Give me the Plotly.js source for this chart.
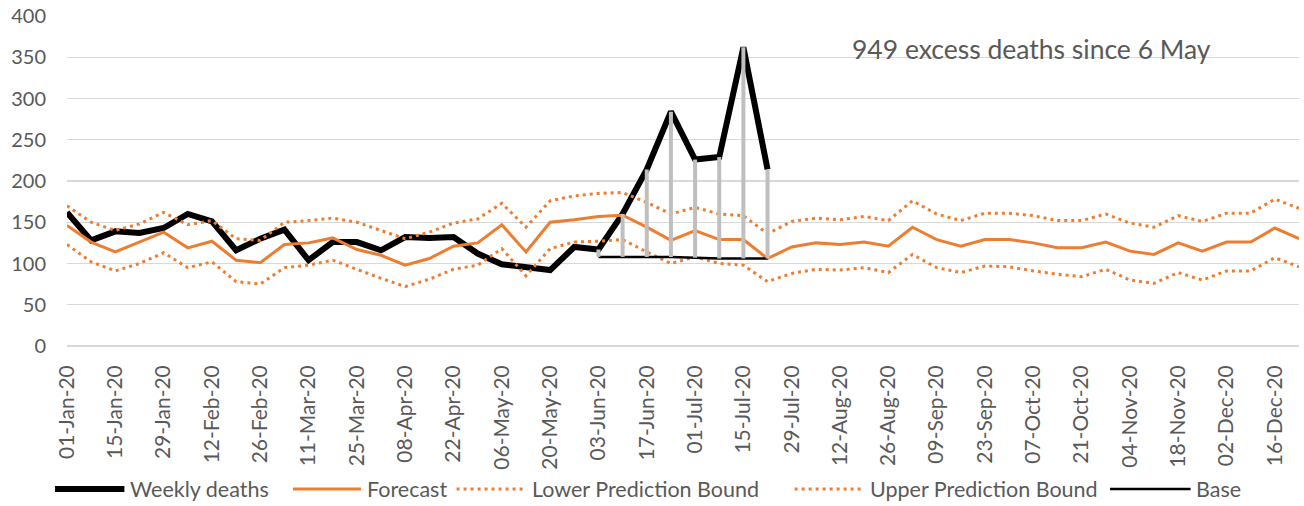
<!DOCTYPE html>
<html>
<head>
<meta charset="utf-8">
<script src="https://cdn.plot.ly/plotly-3.0.1.min.js"></script>
<style>
html,body{margin:0;padding:0;background:#fff;}
#chart{width:1304px;height:506px;}
</style>
</head>
<body>
<div id="chart"></div>
<script>
const weeks = ['01-Jan-20','08-Jan-20','15-Jan-20','22-Jan-20','29-Jan-20','05-Feb-20','12-Feb-20','19-Feb-20','26-Feb-20','04-Mar-20','11-Mar-20','18-Mar-20','25-Mar-20','01-Apr-20','08-Apr-20','15-Apr-20','22-Apr-20','29-Apr-20','06-May-20','13-May-20','20-May-20','27-May-20','03-Jun-20','10-Jun-20','17-Jun-20','24-Jun-20','01-Jul-20','08-Jul-20','15-Jul-20','22-Jul-20','29-Jul-20','05-Aug-20','12-Aug-20','19-Aug-20','26-Aug-20','02-Sep-20','09-Sep-20','16-Sep-20','23-Sep-20','30-Sep-20','07-Oct-20','14-Oct-20','21-Oct-20','28-Oct-20','04-Nov-20','11-Nov-20','18-Nov-20','25-Nov-20','02-Dec-20','09-Dec-20','16-Dec-20','23-Dec-20'];

const weeklyDeaths = [162,128,139,137,143,160,151,116,130,141,104,126,126,116,132,131,132,112,99,95,92,120,117,160,214,284,226,229,362,214,
  null,null,null,null,null,null,null,null,null,null,null,null,null,null,null,null,null,null,null,null,null,null];

const forecast = [146,126,114,126,138,119,127,104,101,123,125,131,117,110,98,106,121,125,147,114,150,153,157,158.5,144,128,140,129,129,106,
  120,125,123,126,121,144,129,121,129,129,125,119,119,126,115,111,125,115,126,126,143,130];

const lowerBound = [123,102,91,100,113,95,102,78,75,95,98,104,93,82,72,81,93,98,118,85,118,126,127,129,114,100,108,100,98,78,
  88,93,92,95,89,111,95,89,97,96,91,87,84,93,80,76,89,80,91,91,107,96];

const upperBound = [170,150,140,148,162,147,152,130,128,150,152,155,150,140,130,138,149,154,173,144,176,182,185,186,174,160,168,160,158,136,
  151,155,153,157,152,176,160,152,161,161,158,152,152,160,149,144,158,151,161,161,178,167];

const base = [null,null,null,null,null,null,null,null,null,null,null,null,null,null,null,null,null,null,null,null,null,null,
  108,108,108,108,107,106,106,106,
  null,null,null,null,null,null,null,null,null,null,null,null,null,null,null,null,null,null,null,null,null,null];

const yTicks = [0,50,100,150,200,250,300,350,400];
const noteText = '949 excess deaths since 6 May';
const seriesNames = ['Weekly deaths','Forecast','Lower Prediction Bound','Upper Prediction Bound','Base'];

const ORANGE = '#ED7D31';
const TXT = '#595959';
const FONT = 'Lato, "Open Sans", sans-serif';
const DOT = '3px,4px';

const styles = [
  {color: '#000000', width: 6},
  {color: ORANGE, width: 3},
  {color: ORANGE, width: 3, dash: DOT},
  {color: ORANGE, width: 3, dash: DOT},
  {color: '#000000', width: 2.5}
];
const seriesData = [weeklyDeaths, forecast, lowerBound, upperBound, base];

// high-low connectors built from base and weekly deaths
const hlX = [], hlY = [];
weeks.forEach((w, i) => {
  if (base[i] !== null && weeklyDeaths[i] !== null) {
    hlX.push(w, w, null);
    hlY.push(base[i], weeklyDeaths[i], null);
  }
});

const traces = seriesData.map((d, k) => ({
  x: weeks, y: d, name: seriesNames[k], mode: 'lines', line: styles[k], showlegend: false
}));
traces.push({x: hlX, y: hlY, mode: 'lines', showlegend: false, hoverinfo: 'skip', line: {color: '#BFBFBF', width: 4}});

// Excel-style legend below the chart (paper coordinates)
const legendY = -0.433;
const legSample = [[-0.0097, 0.0466], [0.1834, 0.2386], [0.3162, 0.3726], [0.5906, 0.6473], [0.8466, 0.9120]];
const shapes = legSample.map((s, k) => ({
  type: 'line', xref: 'paper', yref: 'paper', x0: s[0], x1: s[1], y0: legendY, y1: legendY,
  line: styles[k]
}));
const annotations = legSample.map((s, k) => ({
  text: seriesNames[k], xref: 'paper', yref: 'paper', x: s[1] + 0.003, y: legendY,
  xanchor: 'left', yanchor: 'middle', showarrow: false,
  font: {size: 21.5, color: TXT, family: FONT}
}));
annotations.push({
  text: noteText, xref: 'paper', yref: 'paper', x: 0.783, y: 0.9,
  xanchor: 'center', yanchor: 'middle', showarrow: false,
  font: {size: 26.5, color: TXT, family: FONT}
});

const tickIdx = weeks.map((w, i) => i).filter(i => i % 2 === 0);

const layout = {
  width: 1304, height: 506,
  margin: {l: 67, r: 5, t: 16, b: 160},
  paper_bgcolor: '#ffffff', plot_bgcolor: '#ffffff',
  font: {family: FONT, color: TXT},
  showlegend: false,
  xaxis: {
    type: 'category', categoryorder: 'array', categoryarray: weeks,
    range: [0, weeks.length - 1],
    tickvals: tickIdx.map(i => weeks[i]), ticktext: tickIdx.map(i => weeks[i]),
    tickangle: -90, tickfont: {size: 21, color: TXT, family: FONT},
    showgrid: false, zeroline: false, showline: false, ticks: '', ticklabelstandoff: 14
  },
  yaxis: {
    range: [0, 400], tickvals: yTicks, ticktext: yTicks.map(String),
    tickfont: {size: 20, color: TXT, family: FONT},
    showgrid: true, gridcolor: '#D9D9D9', gridwidth: 1.3,
    zeroline: true, zerolinecolor: '#D9D9D9', zerolinewidth: 1.3,
    showline: false, ticks: '', ticklabelstandoff: 20
  },
  shapes: shapes,
  annotations: annotations
};

Plotly.newPlot('chart', traces, layout, {staticPlot: true, displayModeBar: false});
</script>
</body>
</html>
